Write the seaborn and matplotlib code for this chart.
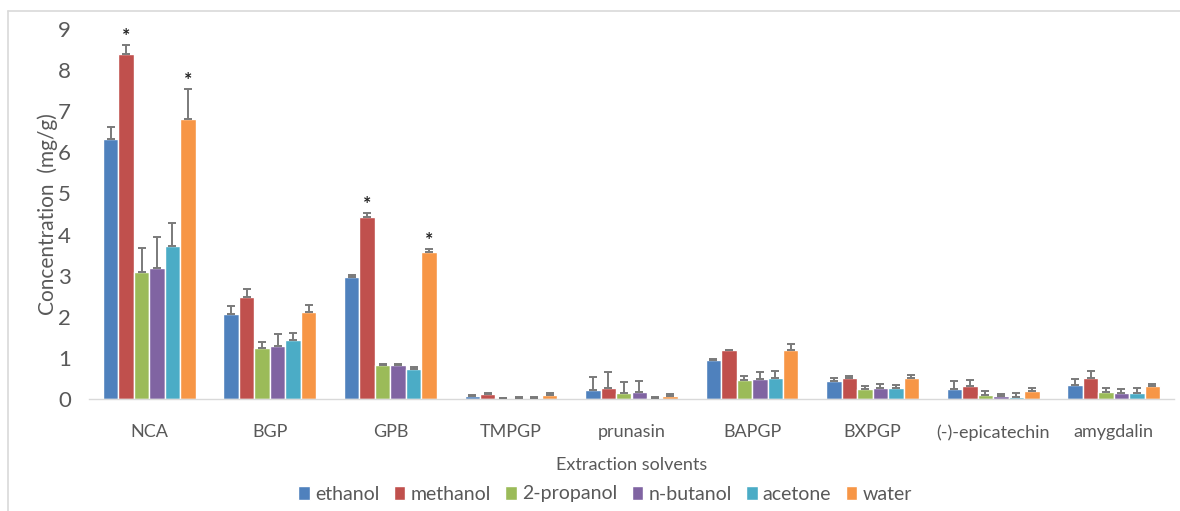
import numpy as np
import pandas as pd
import matplotlib
matplotlib.use("Agg")
import matplotlib.pyplot as plt
from matplotlib.lines import Line2D
import seaborn as sns

# Compounds measured and the solvents used to extract them
compounds = ["NCA", "BGP", "GPB", "TMPGP", "prunasin", "BAPGP", "BXPGP",
             "(-)-epicatechin", "amygdalin"]
solvents = ["ethanol", "methanol", "2-propanol", "n-butanol", "acetone", "water"]

# Mean concentration (mg/g) per solvent, one value per compound
ethanol = [6.32, 2.07, 2.97, 0.07, 0.22, 0.94, 0.44, 0.24, 0.33]
methanol = [8.38, 2.48, 4.42, 0.12, 0.27, 1.18, 0.50, 0.31, 0.50]
propanol_2 = [3.09, 1.25, 0.83, 0.02, 0.15, 0.46, 0.24, 0.09, 0.16]
n_butanol = [3.19, 1.30, 0.82, 0.03, 0.17, 0.49, 0.27, 0.065, 0.14]
acetone = [3.72, 1.44, 0.73, 0.03, 0.02, 0.50, 0.26, 0.04, 0.14]
water = [6.81, 2.12, 3.57, 0.10, 0.07, 1.18, 0.50, 0.19, 0.31]

# Standard deviations (upper error bars)
ethanol_sd = [0.29, 0.19, 0.05, 0.02, 0.32, 0.03, 0.08, 0.21, 0.16]
methanol_sd = [0.22, 0.19, 0.10, 0.02, 0.39, 0.02, 0.06, 0.16, 0.19]
propanol_2_sd = [0.59, 0.14, 0.02, 0.01, 0.27, 0.11, 0.08, 0.10, 0.11]
n_butanol_sd = [0.76, 0.29, 0.04, 0.01, 0.28, 0.17, 0.10, 0.065, 0.11]
acetone_sd = [0.55, 0.17, 0.04, 0.03, 0.02, 0.19, 0.09, 0.11, 0.13]
water_sd = [0.72, 0.16, 0.07, 0.04, 0.04, 0.17, 0.09, 0.08, 0.06]

# Significant results marked with an asterisk
significant = [("NCA", "methanol"), ("NCA", "water"),
               ("GPB", "methanol"), ("GPB", "water")]

means = [ethanol, methanol, propanol_2, n_butanol, acetone, water]
sds = [ethanol_sd, methanol_sd, propanol_2_sd, n_butanol_sd, acetone_sd, water_sd]

colors = ["#4F81BD", "#C0504D", "#9BBB59", "#8064A2", "#4BACC6", "#F79646"]
text_color = "#595959"

df = pd.DataFrame({
    "compound": np.repeat([compounds], len(solvents), axis=0).ravel(),
    "solvent": np.repeat(solvents, len(compounds)),
    "conc": np.concatenate(means),
})

sns.set_theme(style="white")
plt.rcParams["font.family"] = ["Lato", "DejaVu Sans"]

fig = plt.figure(figsize=(11.8, 5.11), dpi=100)
W, H = 1180, 511
ax = fig.add_axes([89 / W, 112 / H, (1174 - 89) / W, 370 / H])

sns.barplot(data=df, x="compound", y="conc", hue="solvent",
            order=compounds, hue_order=solvents, palette=colors,
            width=0.77, errorbar=None, edgecolor="white", linewidth=1.0,
            saturation=1, ax=ax)

# Upper-only error bars and significance markers
bar_groups = list(ax.containers)
for i, cont in enumerate(bar_groups):
    xs = np.array([p.get_x() + p.get_width() / 2 for p in cont.patches])
    ys = np.array([p.get_height() for p in cont.patches])
    err = np.array(sds[i])
    ax.errorbar(xs, ys, yerr=[np.zeros_like(err), err], fmt="none",
                ecolor="#7a7a7a", elinewidth=1.4, capsize=3.0, capthick=1.4,
                zorder=3)
    for j, comp in enumerate(compounds):
        if (comp, solvents[i]) in significant:
            ax.annotate("*", (xs[j], ys[j] + err[j]), xytext=(0, 0),
                        textcoords="offset points", ha="center", va="bottom",
                        fontsize=14, fontweight="bold", color="#222222")

ax.set_xlim(-0.5, len(compounds) - 0.5)
ax.set_ylim(0, 9)
ax.set_yticks(range(0, 10))
for s in ["left", "right", "top"]:
    ax.spines[s].set_visible(False)
ax.spines["bottom"].set_color("#d9d9d9")
ax.spines["bottom"].set_linewidth(1.0)
ax.tick_params(axis="y", length=0, pad=13, labelsize=16, labelcolor=text_color)
ax.tick_params(axis="x", length=0, pad=18, labelsize=13, labelcolor=text_color)
ax.set_ylabel("Concentration  (mg/g)", fontsize=15, color=text_color, labelpad=0)
ax.set_xlabel("Extraction solvents", fontsize=13, color=text_color, labelpad=12)

handles, labels = ax.get_legend_handles_labels()
if ax.get_legend() is not None:
    ax.get_legend().remove()
fig.legend(handles, labels, loc="center", bbox_to_anchor=(605 / W, 1 - 494 / H),
           ncol=6, frameon=False, fontsize=14, handlelength=0.6,
           handleheight=0.7, handletextpad=0.25, columnspacing=0.75,
           labelcolor=text_color)

# Chart-area border
border = "#d9d9d9"
fig.add_artist(Line2D([7.5 / W, 7.5 / W], [0, 1 - 11 / H], color=border,
                      lw=1.2, transform=fig.transFigure))
fig.add_artist(Line2D([7.5 / W, 1], [1 - 11 / H, 1 - 11 / H], color=border,
                      lw=1.2, transform=fig.transFigure))

fig.savefig("out.png", dpi=100, facecolor="white")
